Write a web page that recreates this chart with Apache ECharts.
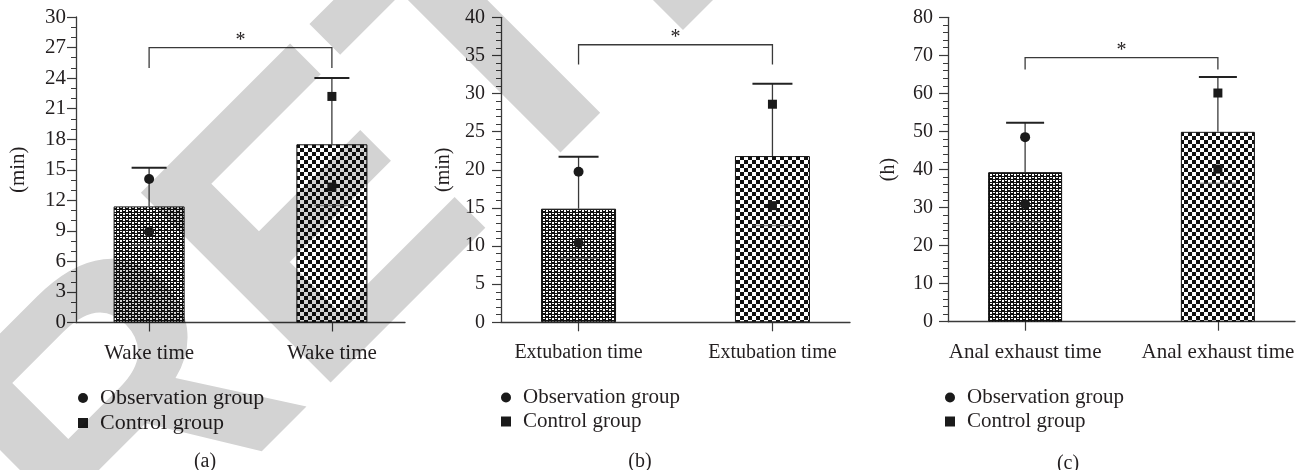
<!DOCTYPE html>
<html><head><meta charset="utf-8">
<script src="https://cdn.jsdelivr.net/npm/echarts@6/dist/echarts.min.js"></script>
<style>html,body{margin:0;padding:0;background:#fff}#c{width:1307px;height:470px}</style>
</head><body><div id="c"></div>
<script>
// ---- data ----
const categoriesA = ['Wake time', 'Wake time'];
const categoriesB = ['Extubation time', 'Extubation time'];
const categoriesC = ['Anal exhaust time', 'Anal exhaust time'];

const meanA = [11.4, 17.5];
const upperA = [15.2, 24.0];
const lowerA = [7.6, 11.5];
const obsA = [14.1, 8.9];
const ctrlA = [22.2, 13.3];
const bracketA = [27.0, 25.0];

const meanB = [14.9, 21.8];
const upperB = [21.7, 31.3];
const lowerB = [8.4, 12.7];
const obsB = [19.75, 10.4];
const ctrlB = [28.6, 15.3];
const bracketB = [36.4, 33.8];

const meanC = [39.3, 49.9];
const upperC = [52.3, 64.3];
const lowerC = [26.3, 36.4];
const obsC = [48.5, 30.9];
const ctrlC = [60.1, 40.1];
const bracketC = [69.4, 66.3];

const yMaxes = [30, 40, 80];
const yIntervals = [3, 5, 10];
const yMinorSplits = [3, 5, 5];
const yNames = ['(min)', '(min)', '(h)'];
const panelLabels = ['(a)', '(b)', '(c)'];
const legendNames = ['Observation group', 'Control group'];
const watermarkText = 'RETRACTED';

// ---- layout / style ----
const FONT = 'Liberation Serif';
const TXT = '#231f20';
const LINE = '#3a3a3a';

const grids = [
  {left: 76, top: 17, width: 329, height: 305.5},
  {left: 501, top: 17.3, width: 349, height: 305},
  {left: 948, top: 17.3, width: 347, height: 304.4}
];
const tickFont = [21, 20, 20];
const catFont = [21, 20, 21];
const legendFont = [22, 21, 21];
const labelMargins = [10, 16, 15];
const nameGaps = [47, 47, 49];
const barWidths = [71, 75, 74];
const capWidths = [35, 40, 38];
const legendLefts = [73, 496, 940];
const panelLabelPos = [[205, 462], [640, 462], [1068, 464]];

function pattern(kind) {
  const c = document.createElement('canvas');
  const ctx = c.getContext('2d');
  if (kind === 1) {
    c.width = 6; c.height = 6;
    ctx.fillStyle = '#111'; ctx.fillRect(0, 0, 6, 6);
    ctx.fillStyle = '#fff';
    ctx.fillRect(0, 0, 2, 2); ctx.fillRect(3, 3, 2, 2);
    ctx.fillRect(3, 0, 2, 1); ctx.fillRect(0, 3, 2, 1);
  } else {
    c.width = 8; c.height = 8;
    ctx.fillStyle = '#fff'; ctx.fillRect(0, 0, 8, 8);
    ctx.fillStyle = '#111'; ctx.fillRect(0, 0, 4, 4); ctx.fillRect(4, 4, 4, 4);
  }
  return {image: c, repeat: 'repeat'};
}
const pat1 = pattern(1), pat2 = pattern(2);

// watermark drawn into an offscreen canvas, multiplied over the chart
function watermark() {
  const c = document.createElement('canvas');
  c.width = 1307; c.height = 470;
  const ctx = c.getContext('2d');
  ctx.fillStyle = '#fff'; ctx.fillRect(0, 0, c.width, c.height);
  ctx.translate(113, 600);
  ctx.rotate(-Math.PI / 4);
  ctx.font = 'bold 390px "Liberation Sans"';
  ctx.textBaseline = 'alphabetic';
  ctx.fillStyle = '#d3d3d3';
  ctx.fillText(watermarkText, 0, 0);
  return c;
}

const panels = [
  {cats: categoriesA, mean: meanA, up: upperA, lo: lowerA, obs: obsA, ctrl: ctrlA, br: bracketA},
  {cats: categoriesB, mean: meanB, up: upperB, lo: lowerB, obs: obsB, ctrl: ctrlB, br: bracketB},
  {cats: categoriesC, mean: meanC, up: upperC, lo: lowerC, obs: obsC, ctrl: ctrlC, br: bracketC}
];

const xAxis = [], yAxis = [], series = [], legend = [], graphic = [];

panels.forEach((p, i) => {
  xAxis.push({
    type: 'value', gridIndex: i, min: -0.4, max: 1.4,
    splitLine: {show: false},
    axisLine: {onZero: false, lineStyle: {color: LINE, width: 1.3}},
    axisTick: {show: true, customValues: [0, 1], length: 9, lineStyle: {color: LINE, width: 1.2}},
    axisLabel: {customValues: [0, 1], formatter: v => p.cats[Math.round(v)], margin: 20,
      fontFamily: FONT, fontSize: catFont[i], color: TXT}
  });
  yAxis.push({
    type: 'value', gridIndex: i, min: 0, max: yMaxes[i], interval: yIntervals[i],
    splitLine: {show: false},
    axisLine: {show: true, onZero: false, lineStyle: {color: LINE, width: 1.3}},
    axisTick: {show: true, length: 9, lineStyle: {color: LINE, width: 1.2}},
    minorTick: {show: true, splitNumber: yMinorSplits[i], length: 5, lineStyle: {color: LINE, width: 1}},
    axisLabel: {margin: labelMargins[i], fontFamily: FONT, fontSize: tickFont[i], color: TXT},
    name: yNames[i], nameLocation: 'middle', nameGap: nameGaps[i], nameRotate: 90,
    nameTextStyle: {fontFamily: FONT, fontSize: tickFont[i], color: TXT}
  });
  series.push({
    type: 'bar', xAxisIndex: i, yAxisIndex: i, barWidth: barWidths[i], z: 2,
    data: [
      {value: [0, p.mean[0]], itemStyle: {color: pat1, borderColor: '#111', borderWidth: 1}},
      {value: [1, p.mean[1]], itemStyle: {color: pat2, borderColor: '#111', borderWidth: 1}}
    ],
    silent: true
  });
  series.push({
    type: 'custom', xAxisIndex: i, yAxisIndex: i, z: 3, silent: true,
    encode: {x: 0, y: [1, 2, 3]},
    data: [[0, p.mean[0], p.up[0], p.lo[0]], [1, p.mean[1], p.up[1], p.lo[1]]],
    renderItem: (params, api) => {
      const m = api.coord([api.value(0), api.value(1)]);
      const u = api.coord([api.value(0), api.value(2)]);
      const l = api.coord([api.value(0), api.value(3)]);
      const hw = capWidths[i] / 2;
      return {type: 'group', children: [
        {type: 'line', shape: {x1: m[0], y1: m[1], x2: u[0], y2: u[1]}, style: {stroke: LINE, lineWidth: 1.3}},
        {type: 'line', shape: {x1: u[0] - hw, y1: u[1], x2: u[0] + hw, y2: u[1]}, style: {stroke: '#222', lineWidth: 2}},
        {type: 'line', shape: {x1: l[0] - hw, y1: l[1], x2: l[0] + hw, y2: l[1]}, style: {stroke: 'rgba(90,90,90,0.55)', lineWidth: 1.5}}
      ]};
    }
  });
  series.push({
    type: 'scatter', name: legendNames[0], xAxisIndex: i, yAxisIndex: i, z: 4, silent: true,
    symbol: 'circle', symbolSize: 10, itemStyle: {color: '#1a1a1a', opacity: 1},
    data: p.obs.map(v => [0, v])
  });
  series.push({
    type: 'scatter', name: legendNames[1], xAxisIndex: i, yAxisIndex: i, z: 4, silent: true,
    symbol: 'rect', symbolSize: 9, itemStyle: {color: '#1a1a1a', opacity: 1},
    data: p.ctrl.map(v => [1, v])
  });
  series.push({
    type: 'custom', xAxisIndex: i, yAxisIndex: i, z: 3, silent: true,
    encode: {x: [0, 1], y: [2, 3]},
    data: [[0, 1, p.br[0], p.br[1]]],
    renderItem: (params, api) => {
      const a = api.coord([api.value(0), api.value(2)]);
      const b = api.coord([api.value(1), api.value(2)]);
      const bot = api.coord([0, api.value(3)])[1];
      return {type: 'group', children: [
        {type: 'polyline', shape: {points: [[a[0], bot], [a[0], a[1]], [b[0], b[1]], [b[0], bot]]},
          style: {stroke: LINE, lineWidth: 1.3, fill: null}},
        {type: 'text', x: (a[0] + b[0]) / 2, y: a[1] - 7,
          style: {text: '*', fontFamily: FONT, fontSize: 20, fill: TXT, align: 'center', verticalAlign: 'middle'}}
      ]};
    }
  });
  legend.push({
    left: legendLefts[i], top: 382, orient: 'vertical', itemWidth: 10, itemHeight: 10, itemGap: 3,
    selectedMode: false,
    textStyle: {fontFamily: FONT, fontSize: legendFont[i], color: TXT, padding: [0, 0, 0, 7]},
    data: [{name: legendNames[0], icon: 'circle'}, {name: legendNames[1], icon: 'rect'}]
  });
  graphic.push({
    type: 'text', x: panelLabelPos[i][0], y: panelLabelPos[i][1], silent: true,
    style: {text: panelLabels[i], fontFamily: FONT, fontSize: 20, fill: TXT, align: 'center', verticalAlign: 'middle'}
  });
});

graphic.push({
  type: 'image', left: 0, top: 0, z: 100, silent: true,
  style: {image: watermark(), x: 0, y: 0, width: 1307, height: 470, blend: 'multiply'}
});

const chart = echarts.init(document.getElementById('c'), null, {renderer: 'canvas'});
chart.setOption({
  animation: false,
  backgroundColor: '#fff',
  grid: grids,
  xAxis, yAxis, series, legend, graphic
});
</script>
</body></html>
